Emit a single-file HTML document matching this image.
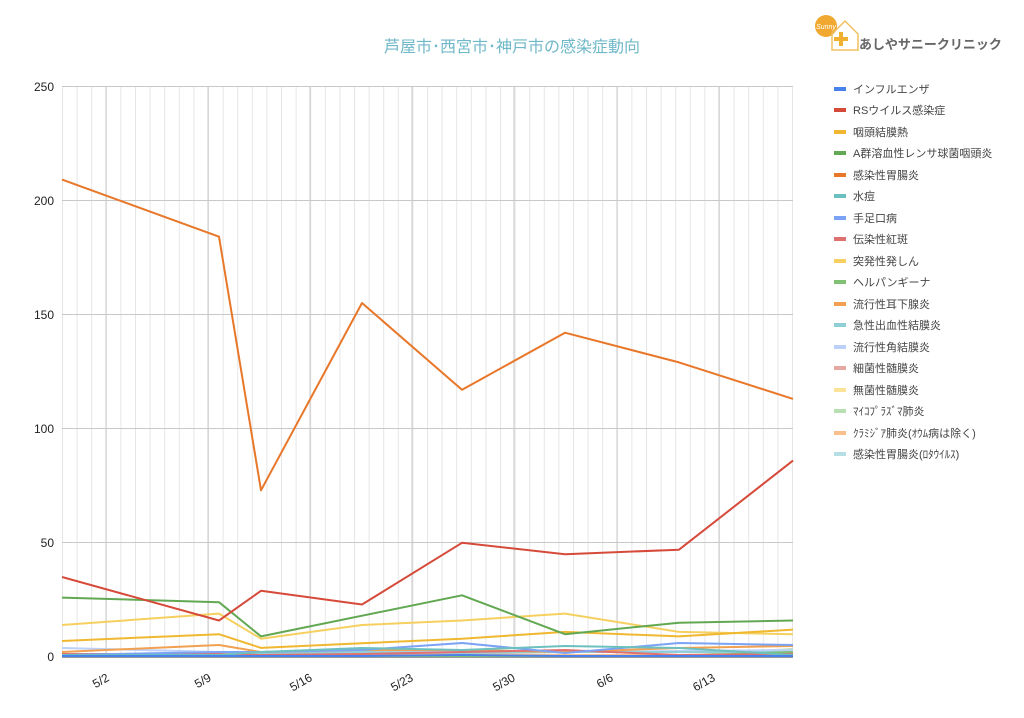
<!DOCTYPE html>
<html><head><meta charset="utf-8"><style>
body{margin:0;background:#fff;width:1024px;height:713px;overflow:hidden;font-family:"Liberation Sans","Noto Sans CJK JP",sans-serif}
</style></head><body>
<svg width="1024" height="713" xmlns="http://www.w3.org/2000/svg" font-family="Liberation Sans, Noto Sans CJK JP, sans-serif">
<defs><pattern id="g" x="62" y="0" width="14.6" height="10" patternUnits="userSpaceOnUse"><line x1="0.5" y1="0" x2="0.5" y2="10" stroke="#e6e6e6" stroke-width="1"/></pattern></defs>
<text x="512" y="52" text-anchor="middle" font-size="16" fill="#6fb8c8">芦屋市･西宮市･神戸市の感染症動向</text>
<g>
<circle cx="826" cy="26" r="11" fill="#f0a830"/>
<text x="826" y="29" font-size="7" fill="#fff" text-anchor="middle" font-style="italic">Sunny</text>
<path d="M832 34 L845 21 L858 34 L858 50 L832 50 Z" fill="none" stroke="#f0c060" stroke-width="1.5"/>
<rect x="834" y="37" width="14" height="4" fill="#f0b030"/><rect x="839" y="32" width="4" height="14" fill="#f0b030"/>
<text x="859" y="49" font-size="13" font-weight="bold" fill="#666">あしやサニークリニック</text>
</g>
<rect x="62" y="86" width="731" height="571" fill="url(#g)"/>
<g stroke="#c8c8c8" stroke-width="1">
<line x1="62" y1="86.5" x2="793" y2="86.5"/><line x1="62" y1="200.5" x2="793" y2="200.5"/><line x1="62" y1="314.5" x2="793" y2="314.5"/><line x1="62" y1="428.5" x2="793" y2="428.5"/><line x1="62" y1="542.5" x2="793" y2="542.5"/>
<line x1="106" y1="86" x2="106" y2="657"/><line x1="208" y1="86" x2="208" y2="657"/><line x1="310" y1="86" x2="310" y2="657"/><line x1="412" y1="86" x2="412" y2="657"/><line x1="514" y1="86" x2="514" y2="657"/><line x1="617" y1="86" x2="617" y2="657"/><line x1="719" y1="86" x2="719" y2="657"/>
</g>
<line x1="62" y1="657" x2="793" y2="657" stroke="#333" stroke-width="1"/>
<g font-size="12" fill="#222" text-anchor="end">
<text x="54" y="91">250</text><text x="54" y="205">200</text><text x="54" y="319">150</text><text x="54" y="433">100</text><text x="54" y="547">50</text><text x="54" y="661">0</text>
</g>
<g font-size="12" fill="#222" text-anchor="end">
<text transform="translate(110,680) rotate(-30)">5/2</text>
<text transform="translate(212,680) rotate(-30)">5/9</text>
<text transform="translate(313,680) rotate(-30)">5/16</text>
<text transform="translate(414,680) rotate(-30)">5/23</text>
<text transform="translate(516,680) rotate(-30)">5/30</text>
<text transform="translate(614,680) rotate(-30)">6/6</text>
<text transform="translate(716,680) rotate(-30)">6/13</text>
</g>
<g fill="none" stroke-width="2" stroke-linejoin="round">
<polyline stroke="#b5dde4" points="62,656 219,656 261,656 362,655 462,656 565,656 679,656 793,656"/>
<polyline stroke="#f9c08e" points="62,655 219,654 261,655 362,655 462,654 565,655 679,655 793,654"/>
<polyline stroke="#b7e0b0" points="62,656 219,656 261,655 362,656 462,656 565,656 679,656 793,649"/>
<polyline stroke="#fbe49a" points="62,656 219,656 261,656 362,656 462,656 565,656 679,656 793,656"/>
<polyline stroke="#e6a8a2" points="62,656 219,656 261,656 362,656 462,656 565,656 679,656 793,656"/>
<polyline stroke="#bcd0f8" points="62,648 219,652 261,652 362,652 462,651 565,652 679,651 793,650"/>
<polyline stroke="#8fd0d8" points="62,655 219,655 261,654 362,652 462,653 565,652 679,652 793,652"/>
<polyline stroke="#f0a050" points="62,652 219,645 261,652 362,650 462,650 565,652 679,648 793,646"/>
<polyline stroke="#80c070" points="62,656 219,656 261,656 362,656 462,656 565,656 679,656 793,652"/>
<polyline stroke="#e07070" points="62,654 219,654 261,655 362,654 462,652 565,650 679,655 793,654"/>
<polyline stroke="#7aa2f5" points="62,655 219,652 261,652 362,650 462,643 565,653 679,643 793,645"/>
<polyline stroke="#6cc0c0" points="62,655 219,655 261,652 362,648 462,650 565,646 679,648 793,655"/>
<polyline stroke="#4a80ec" points="62,656 219,656 261,656 362,656 462,655 565,656 679,656 793,656"/>
<polyline stroke="#f5d060" points="62,625 219,613.6 261,638.7 362,625 462,620.5 565,613.6 679,631.9 793,634.2"/>
<polyline stroke="#f0b830" points="62,641 219,634.2 261,647.9 362,643.3 462,638.7 565,631.9 679,636.4 793,629.6"/>
<polyline stroke="#62a852" points="62,597.6 219,602.2 261,636.4 462,595.3 565,634.2 679,622.7 793,620.5"/>
<polyline stroke="#d64a3a" points="62,577 219,620.5 261,590.8 362,604.5 462,542.8 565,554.2 679,549.7 793,460.6"/>
<polyline stroke="#e8772a" points="62,179.6 219,236.7 261,490.3 362,303 462,389.8 565,332.7 679,362.4 793,398.9"/>
</g>
<g font-size="11" fill="#444">
<rect x="834" y="87" width="12" height="4" fill="#4a80ec"/><text x="853" y="93">インフルエンザ</text>
<rect x="834" y="108" width="12" height="4" fill="#d64a3a"/><text x="853" y="114">RSウイルス感染症</text>
<rect x="834" y="130" width="12" height="4" fill="#f0b830"/><text x="853" y="136">咽頭結膜熱</text>
<rect x="834" y="151" width="12" height="4" fill="#62a852"/><text x="853" y="157">A群溶血性レンサ球菌咽頭炎</text>
<rect x="834" y="173" width="12" height="4" fill="#e8772a"/><text x="853" y="179">感染性胃腸炎</text>
<rect x="834" y="194" width="12" height="4" fill="#6cc0c0"/><text x="853" y="200">水痘</text>
<rect x="834" y="216" width="12" height="4" fill="#7aa2f5"/><text x="853" y="222">手足口病</text>
<rect x="834" y="237" width="12" height="4" fill="#e07070"/><text x="853" y="243">伝染性紅斑</text>
<rect x="834" y="259" width="12" height="4" fill="#f5d060"/><text x="853" y="265">突発性発しん</text>
<rect x="834" y="280" width="12" height="4" fill="#80c070"/><text x="853" y="286">ヘルパンギーナ</text>
<rect x="834" y="302" width="12" height="4" fill="#f0a050"/><text x="853" y="308">流行性耳下腺炎</text>
<rect x="834" y="323" width="12" height="4" fill="#8fd0d8"/><text x="853" y="329">急性出血性結膜炎</text>
<rect x="834" y="345" width="12" height="4" fill="#bcd0f8"/><text x="853" y="351">流行性角結膜炎</text>
<rect x="834" y="366" width="12" height="4" fill="#e6a8a2"/><text x="853" y="372">細菌性髄膜炎</text>
<rect x="834" y="388" width="12" height="4" fill="#fbe49a"/><text x="853" y="394">無菌性髄膜炎</text>
<rect x="834" y="409" width="12" height="4" fill="#b7e0b0"/><text x="853" y="415">ﾏｲｺﾌﾟﾗｽﾞﾏ肺炎</text>
<rect x="834" y="431" width="12" height="4" fill="#f9c08e"/><text x="853" y="437">ｸﾗﾐｼﾞｱ肺炎(ｵｳﾑ病は除く)</text>
<rect x="834" y="452" width="12" height="4" fill="#b5dde4"/><text x="853" y="458">感染性胃腸炎(ﾛﾀｳｲﾙｽ)</text>
</g>
</svg>
</body></html>
